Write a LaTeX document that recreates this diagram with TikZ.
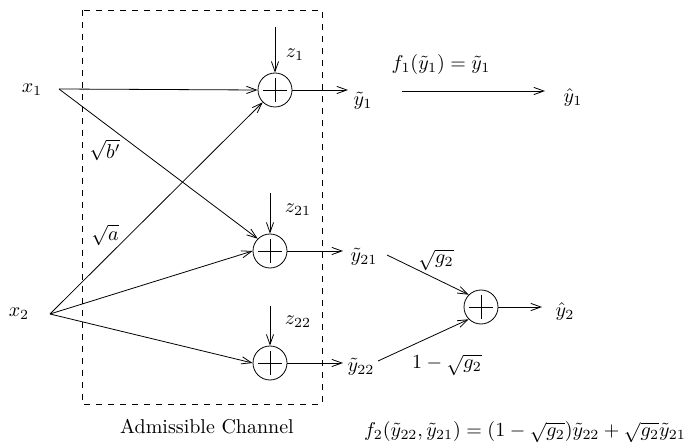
\documentclass[tikz,border=0pt]{standalone}
\usepackage{amsmath}
\usepackage{tikz}
\usetikzlibrary{arrows, arrows.meta, positioning}

\tikzset{
    summer/.style={draw, circle, minimum size=17pt, inner sep=0pt,
        path picture={
            \draw ([xshift=-6pt]path picture bounding box.center) -- ([xshift=6pt]path picture bounding box.center);
            \draw ([yshift=-6pt]path picture bounding box.center) -- ([yshift=6pt]path picture bounding box.center);
        }},
    sig/.style={inner sep=1pt}
}

\begin{document}
\begin{tikzpicture}[x=0.5pt, y=-0.5pt, >={Straight Barb[length=5pt, width=3.6pt]}]
    \useasboundingbox (0,0) rectangle (685,443);

    % admissible channel
    \draw[dashed] (82,10) rectangle (322,404);
    \node[sig] (chan) at (207,427) {Admissible Channel};

    % inputs
    \node[sig] (x1) at (32,90) {$x_1$};
    \node[sig] (x2) at (19,314) {$x_2$};
    \coordinate (x1out) at (59,89);
    \coordinate (x2out) at (50,314);

    % adders
    \node[summer] (sum1) at (275,90) {};
    \node[summer] (sum21) at (270,251) {};
    \node[summer] (sum22) at (270,363) {};
    \node[summer] (sum2) at (481,307) {};

    % noise
    \coordinate (n1) at (275,27);
    \coordinate (n21) at (270,193);
    \coordinate (n22) at (270,306);
    \draw[->] (n1) -- (sum1.north);
    \draw[->] (n21) -- (sum21.north);
    \draw[->] (n22) -- (sum22.north);
    \node[sig] (z1) at (295,55) {$z_1$};
    \node[sig] (z21) at (298,210) {$z_{21}$};
    \node[sig] (z22) at (298,322) {$z_{22}$};

    % channel gains
    \draw[->] (x1out) -- (sum1.west);
    \draw[->] (x1out) -- (sum21.north west);
    \draw[->] (x2out) -- (sum1.south west);
    \draw[->] (x2out) -- (sum21.west);
    \draw[->] (x2out) -- (sum22.west);
    \node[sig] (gb) at (105,150) {$\sqrt{b'}$};
    \node[sig] (ga) at (105,235) {$\sqrt{a}$};

    % channel outputs
    \coordinate (o1) at (348,90);
    \coordinate (o21) at (343,251);
    \coordinate (o22) at (343,363);
    \draw[->] (sum1.east) -- (o1);
    \draw[->] (sum21.east) -- (o21);
    \draw[->] (sum22.east) -- (o22);
    \node[sig] (y1) at (363,101) {$\tilde{y}_1$};
    \node[sig] (y21) at (364,257) {$\tilde{y}_{21}$};
    \node[sig] (y22) at (361,367) {$\tilde{y}_{22}$};

    % receiver 1
    \coordinate (f1in) at (402,91);
    \coordinate (f1out) at (545,91);
    \draw[->] (f1in) -- (f1out);
    \node[sig] (f1) at (441,65) {$f_1(\tilde{y}_1) = \tilde{y}_1$};
    \node[sig] (yh1) at (573,98) {$\hat{y}_1$};

    % receiver 2
    \coordinate (r21) at (387,255);
    \coordinate (r22) at (378,361);
    \draw[->] (r21) -- (sum2.north west);
    \draw[->] (r22) -- (sum2.south west);
    \node[sig] (w21) at (436,260) {$\sqrt{g_2}$};
    \node[sig] (w22) at (447,365) {$1-\sqrt{g_2}$};
    \coordinate (o2) at (542,307);
    \draw[->] (sum2.east) -- (o2);
    \node[sig] (yh2) at (565,311) {$\hat{y}_2$};
    \node[sig] (f2) at (525,432) {$f_2(\tilde{y}_{22},\tilde{y}_{21}) = (1-\sqrt{g_2})\tilde{y}_{22} + \sqrt{g_2}\tilde{y}_{21}$};
\end{tikzpicture}
\end{document}
